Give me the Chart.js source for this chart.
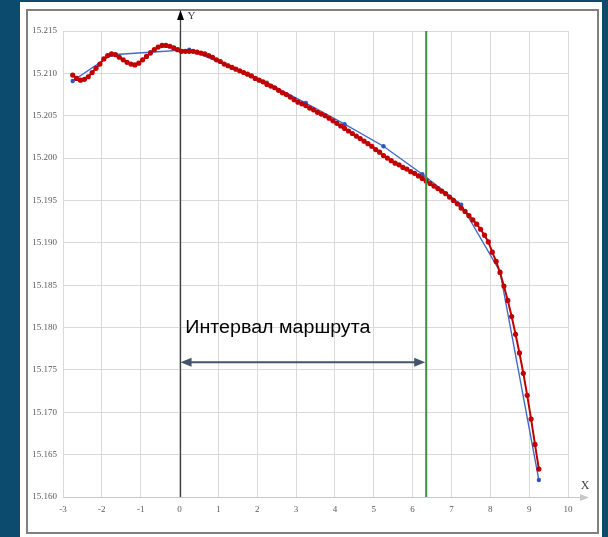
<!DOCTYPE html>
<html>
<head>
<meta charset="utf-8">
<script src="https://cdn.jsdelivr.net/npm/chart.js@4/dist/chart.umd.min.js"></script>
<style>
  html, body { margin: 0; padding: 0; }
  body { width: 608px; height: 537px; background: #0c4a6e; position: relative; overflow: hidden; }
  #panel { position: absolute; left: 20px; top: 2px; width: 582px; height: 535px; background: #ffffff; }
  #frame { position: absolute; left: 26px; top: 9px; width: 569px; height: 521px; border: 2px solid #808080; }
  #wrap { position: absolute; left: 0; top: 0; width: 608px; height: 537px; }
</style>
</head>
<body>
<div id="panel"></div>
<div id="frame"></div>
<div id="wrap"><canvas id="c" width="608" height="537"></canvas></div>
<script>
// ---- data ----
const redX = [-2.75,-2.65,-2.55,-2.45,-2.35,-2.25,-2.15,-2.05,-1.95,-1.85,-1.75,-1.65,-1.55,-1.45,-1.35,-1.25,-1.15,-1.05,-0.95,-0.85,
  -0.75,-0.65,-0.55,-0.45,-0.35,-0.25,-0.15,-0.05,0.05,0.15,0.25,0.35,0.45,0.55,0.65,0.75,0.85,0.95,1.05,1.15,
  1.25,1.35,1.45,1.55,1.65,1.75,1.85,1.95,2.05,2.15,2.25,2.35,2.45,2.55,2.65,2.75,2.85,2.95,3.05,3.15,
  3.25,3.35,3.45,3.55,3.65,3.75,3.85,3.95,4.05,4.15,4.25,4.35,4.45,4.55,4.65,4.75,4.85,4.95,5.05,5.15,
  5.25,5.35,5.45,5.55,5.65,5.75,5.85,5.95,6.05,6.15,6.25,6.35,6.45,6.55,6.65,6.75,6.85,6.95,7.05,7.15,
  7.25,7.35,7.45,7.55,7.65,7.75,7.85,7.95,8.05,8.15,8.25,8.35,8.45,8.55,8.65,8.75,8.85,8.95,9.05,9.15,9.25];
const redY = [15.2098,15.2094,15.2092,15.2093,15.2096,15.2101,15.2106,15.2111,15.2117,15.2121,15.2123,15.2122,15.2119,15.2116,15.2113,15.2111,15.2110,15.2112,15.2116,15.2120,
  15.2124,15.2128,15.2131,15.2133,15.2133,15.2132,15.2130,15.2128,15.2126,15.2126,15.2126,15.2126,15.2125,15.2124,15.2123,15.2121,15.2119,15.2116,15.2114,15.2111,
  15.2109,15.2107,15.2105,15.2103,15.2101,15.2099,15.2097,15.2094,15.2092,15.2090,15.2087,15.2085,15.2083,15.2080,15.2077,15.2075,15.2072,15.2069,15.2066,15.2064,
  15.2062,15.2059,15.2057,15.2054,15.2052,15.2050,15.2047,15.2044,15.2041,15.2038,15.2035,15.2032,15.2029,15.2026,15.2023,15.2020,15.2017,15.2014,15.2010,15.2007,
  15.2003,15.2000,15.1997,15.1994,15.1992,15.1989,15.1987,15.1984,15.1982,15.1979,15.1976,15.1973,15.1970,15.1967,15.1964,15.1961,15.1958,15.1954,15.1950,15.1946,
  15.1941,15.1937,15.1932,15.1927,15.1922,15.1916,15.1909,15.1901,15.1889,15.1878,15.1865,15.1849,15.1832,15.1813,15.1792,15.1770,15.1746,15.1720,15.1692,15.1662,15.1633];
const blueX = [-2.75,-1.75,-0.75,0.25,1.25,2.25,3.25,4.25,5.25,6.25,7.25,8.25,9.25];
const blueY = [15.2091,15.2122,15.2125,15.2128,15.2109,15.2089,15.2065,15.2040,15.2014,15.1981,15.1945,15.1866,15.1620];
const xTicks = [-3,-2,-1,0,1,2,3,4,5,6,7,8,9,10];
const yTicks = [15.160,15.165,15.170,15.175,15.180,15.185,15.190,15.195,15.200,15.205,15.210,15.215];
const routeEndX = 6.35;          // green vertical line
const arrowY = 15.1759;          // double-headed arrow level
const labelPos = [0.15, 15.1800];
const labelText = "Интервал маршрута";
const axisNames = ["X", "Y"];

const toPts = (xs, ys) => xs.map((x, i) => ({ x: x, y: ys[i] }));

function arrowHead(ctx, x, y, dx, dy, len, half) {
  const nx = -dy, ny = dx;
  ctx.beginPath();
  ctx.moveTo(x, y);
  ctx.lineTo(x - dx * len + nx * half, y - dy * len + ny * half);
  ctx.lineTo(x - dx * len - nx * half, y - dy * len - ny * half);
  ctx.closePath();
  ctx.fill();
}

const under = {
  id: 'under',
  beforeDatasetsDraw(chart) {
    const { ctx, scales: { x, y }, chartArea } = chart;
    ctx.save();
    ctx.strokeStyle = '#c8c8c8'; ctx.fillStyle = '#c8c8c8'; ctx.lineWidth = 1;
    ctx.beginPath(); ctx.moveTo(chartArea.left, chartArea.bottom + 0.5); ctx.lineTo(582, chartArea.bottom + 0.5); ctx.stroke();
    arrowHead(ctx, 589, chartArea.bottom + 0.5, 1, 0, 9, 3.5);
    const x0 = Math.round(x.getPixelForValue(0)) + 0.5;
    ctx.strokeStyle = '#404040'; ctx.fillStyle = '#000000'; ctx.lineWidth = 1.3;
    ctx.beginPath(); ctx.moveTo(x0, chartArea.bottom); ctx.lineTo(x0, 18); ctx.stroke();
    arrowHead(ctx, x0, 10, 0, -1, 10, 3.5);
    ctx.fillStyle = '#404040';
    ctx.font = '11px "Liberation Serif", serif';
    ctx.textBaseline = 'middle'; ctx.textAlign = 'left';
    ctx.fillText(axisNames[1], x0 + 7, 16);
    ctx.font = '12px "Liberation Serif", serif';
    ctx.textAlign = 'center';
    ctx.fillText(axisNames[0], 585, 486);
    ctx.restore();
  }
};

const over = {
  id: 'over',
  afterDatasetsDraw(chart) {
    const { ctx, scales: { x, y }, chartArea } = chart;
    ctx.save();
    const gx = x.getPixelForValue(routeEndX);
    ctx.strokeStyle = '#3a913f'; ctx.lineWidth = 2;
    ctx.beginPath(); ctx.moveTo(gx, chartArea.top); ctx.lineTo(gx, chartArea.bottom); ctx.stroke();
    const ay = y.getPixelForValue(arrowY);
    const ax1 = x.getPixelForValue(0) + 1, ax2 = gx - 1;
    ctx.strokeStyle = '#44546a'; ctx.fillStyle = '#44546a'; ctx.lineWidth = 2;
    ctx.beginPath(); ctx.moveTo(ax1 + 8, ay); ctx.lineTo(ax2 - 8, ay); ctx.stroke();
    arrowHead(ctx, ax1, ay, -1, 0, 11, 4.5);
    arrowHead(ctx, ax2, ay, 1, 0, 11, 4.5);
    // label, stretched to the reference width
    ctx.fillStyle = '#000000';
    ctx.font = '18px "Liberation Sans", Arial, sans-serif';
    ctx.textAlign = 'left'; ctx.textBaseline = 'middle';
    const tx = x.getPixelForValue(labelPos[0]), ty = y.getPixelForValue(labelPos[1]);
    const w = ctx.measureText(labelText).width;
    const sx = 185 / w;
    ctx.translate(tx, ty);
    ctx.scale(sx, 1);
    ctx.fillText(labelText, 0, 0);
    ctx.restore();
  }
};

new Chart(document.getElementById('c'), {
  type: 'scatter',
  data: {
    datasets: [
      { label: 'red', data: toPts(redX, redY), showLine: true, borderColor: '#c00000', backgroundColor: '#c00000',
        borderWidth: 2, pointRadius: 2.6, pointBorderWidth: 0, pointHoverRadius: 2.6, tension: 0 },
      { label: 'blue', data: toPts(blueX, blueY), showLine: true, borderColor: '#4169c8', backgroundColor: '#3355bb',
        borderWidth: 1.4, pointRadius: 2.2, pointBorderWidth: 0, pointStyle: 'circle', tension: 0 }
    ]
  },
  options: {
    responsive: false,
    animation: false,
    events: [],
    layout: { padding: { left: 23, right: 40, top: 31, bottom: 0 } },
    plugins: { legend: { display: false }, tooltip: { enabled: false } },
    scales: {
      x: {
        type: 'linear', min: -3, max: 10,
        afterBuildTicks: s => { s.ticks = xTicks.map(v => ({ value: v })); },
        afterFit: s => { s.height = 40; },
        grid: { color: '#d9d9d9', lineWidth: 1, drawTicks: false },
        border: { color: '#d9d9d9' },
        ticks: { padding: 7, color: '#595959', font: { family: '"Liberation Serif", serif', size: 9 }, callback: v => String(v) }
      },
      y: {
        type: 'linear', min: 15.16, max: 15.215,
        afterBuildTicks: s => { s.ticks = yTicks.map(v => ({ value: v })); },
        afterFit: s => { s.width = 40; },
        grid: { color: '#d9d9d9', lineWidth: 1, drawTicks: false },
        border: { color: '#d9d9d9' },
        ticks: { padding: 6, color: '#595959', font: { family: '"Liberation Serif", serif', size: 9 }, callback: v => Number(v).toFixed(3) }
      }
    }
  },
  plugins: [under, over]
});
</script>
</body>
</html>
